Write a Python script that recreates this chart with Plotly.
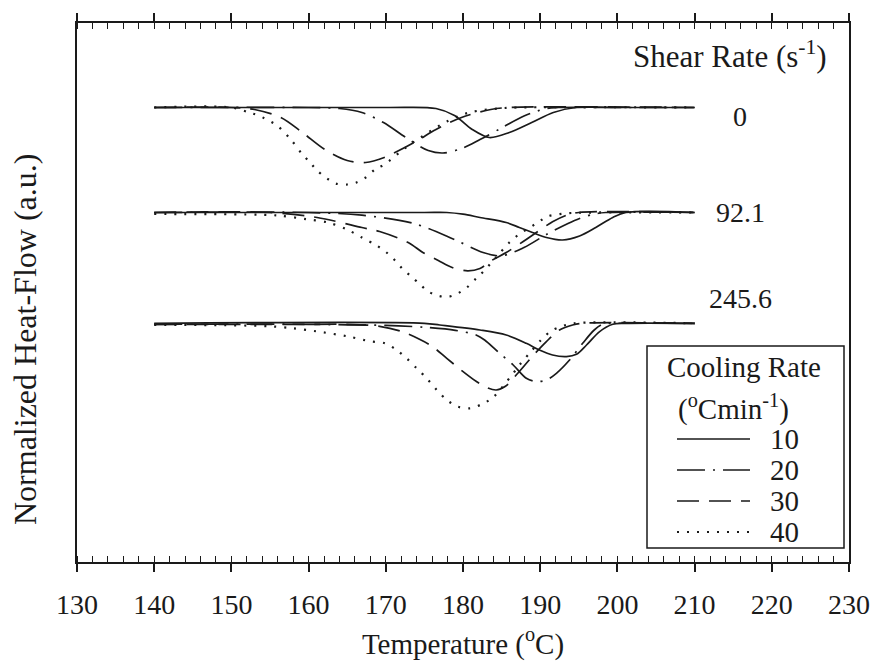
import plotly.graph_objects as go

# ---------------- data ----------------
shear_rates = ["0", "92.1", "245.6"]
baselines = [45.45, 34.95, 23.87]          # vertical offset of each shear-rate group (a.u.)
cooling_rates = ["10", "20", "30", "40"]

# group 1 : shear rate 0
g1_T10 = [140, 170, 176.5, 178.9, 181.2, 183.4, 186, 188.9, 191.7, 194.6, 200, 210]
g1_d10 = [0, 0, 0.1, 0.8, 2.2, 3.0, 2.5, 1.5, 0.5, 0, 0, 0]
g1_T20 = [140, 160, 164, 166.9, 169.7, 172.6, 175.5, 177.4, 179.8, 182.2, 185.1, 187.9, 190.8, 192.4, 200, 210]
g1_d20 = [0, 0, 0.1, 0.5, 1.5, 3.0, 4.3, 4.55, 4.1, 3.2, 2.0, 0.85, 0.1, 0, 0, 0]
g1_T30 = [140, 150, 153, 156.4, 159.2, 162.1, 165, 167.4, 169.8, 171.7, 174.1, 176.5, 179.8, 183.6, 186, 210]
g1_d30 = [0, 0, 0.2, 1.0, 2.5, 4.2, 5.3, 5.5, 5.0, 4.3, 3.3, 2.2, 1.0, 0.2, 0, 0]
g1_T40 = [140, 150, 152.3, 153.5, 155.9, 157.8, 159.2, 160.2, 161.1, 162.4, 163.5, 165, 166.2, 167.4,
          168.6, 169.8, 172.6, 174.5, 177.9, 180.8, 184.6, 187, 210]
g1_d40 = [0, 0, 0.5, 0.8, 1.8, 3.3, 4.7, 5.5, 6.3, 7.1, 7.6, 7.7, 7.5, 7.0,
          6.2, 5.7, 4.0, 3.0, 1.4, 0.5, 0.1, 0, 0]

# group 2 : shear rate 92.1
g2_T10 = [140, 175, 177.9, 180, 182.2, 185.6, 187.3, 189, 190.8, 192.9, 195.1, 197.2, 199.4, 201.1, 210]
g2_d10 = [0, 0, 0, 0.17, 0.5, 1.0, 1.5, 2.0, 2.5, 2.75, 2.35, 1.5, 0.5, 0, 0]
g2_T20 = [140, 160, 166.9, 173.5, 178.8, 182.6, 185, 187.9, 190.8, 193.6, 195.1, 197, 198.5, 210]
g2_d20 = [0, 0, 0.27, 1.07, 2.67, 4.0, 4.33, 3.5, 2.2, 1.1, 0.6, 0.15, 0, 0]
g2_T30 = [140, 155, 161.1, 166.9, 169.2, 172.9, 174.8, 176.8, 178.6, 180.6, 182.2, 183.7, 185.6, 187.8,
          189.5, 191.6, 193.4, 195, 210]
g2_d30 = [0, 0, 0.5, 1.5, 1.9, 3.0, 4.0, 4.8, 5.5, 5.83, 5.6, 4.8, 4.0, 2.9,
          2.0, 0.93, 0.27, 0, 0]
g2_T40 = [140, 152, 156, 159.7, 162.5, 164.9, 166.9, 168.8, 170.1, 171.2, 172.2, 173.3, 174.4, 175.5,
          176.8, 178.1, 179.3, 180.5, 181.7, 182.8, 184.5, 186, 187.3, 189.7, 190.9, 192.5, 194, 210]
g2_d40 = [0.15, 0.2, 0.3, 0.67, 1.0, 1.67, 2.5, 3.3, 4.0, 4.8, 5.67, 6.4, 7.17, 7.9,
          8.33, 8.43, 8.1, 7.5, 6.6, 5.77, 4.3, 3.0, 2.17, 1.0, 0.4, 0.17, 0.05, 0]

# group 3 : shear rate 245.6
g3_T10 = [140, 175, 177, 182.2, 185.6, 188.2, 189.9, 191.6, 193.4, 194.7, 196, 197.7, 199.4, 201, 210]
g3_d10 = [0, 0, 0.17, 0.67, 1.17, 2.0, 2.67, 3.17, 3.33, 3.1, 2.17, 0.83, 0.1, 0, 0]
g3_T20 = [140, 160, 165, 170, 175, 179, 181.7, 182.8, 184.6, 186.5, 188.2, 189.5, 190.8, 192.1, 193.8,
          195.5, 197, 198.1, 200, 210]
g3_d20 = [0.1, 0.1, 0.15, 0.2, 0.4, 0.7, 1.17, 1.67, 2.9, 4.17, 5.5, 5.83, 5.67, 5.0, 3.67,
          2.0, 0.67, 0.1, 0, 0]
g3_T30 = [140, 160, 165, 169.2, 172, 174.3, 176, 177.9, 179.8, 181.7, 183, 184.3, 185.5, 187.1, 189,
          190.8, 192.5, 194.2, 195.5, 210]
g3_d30 = [0.1, 0.1, 0.1, 0.3, 0.8, 1.57, 2.3, 3.5, 4.7, 5.8, 6.4, 6.67, 6.3, 5.0, 3.3,
          1.83, 0.67, 0.17, 0, 0]
g3_T40 = [140, 150, 155, 158, 161, 165, 168, 169.9, 171.4, 172.7, 174, 175.3, 176.6, 177.9, 179.3,
          180.9, 182.4, 183.9, 186.4, 187.5, 188.8, 190.1, 191.4, 192.9, 194.4, 210]
g3_d40 = [0.15, 0.2, 0.3, 0.5, 0.8, 1.3, 1.8, 2.0, 2.67, 3.5, 4.5, 5.5, 6.67, 7.67, 8.33,
          8.5, 8.1, 7.4, 5.1, 4.0, 2.83, 1.67, 0.77, 0.27, 0, 0]

groups = [
    [(g1_T10, g1_d10), (g1_T20, g1_d20), (g1_T30, g1_d30), (g1_T40, g1_d40)],
    [(g2_T10, g2_d10), (g2_T20, g2_d20), (g2_T30, g2_d30), (g2_T40, g2_d40)],
    [(g3_T10, g3_d10), (g3_T20, g3_d20), (g3_T30, g3_d30), (g3_T40, g3_d40)],
]

# ---------------- style ----------------
INK = "#1a1a1a"
FONT = "Liberation Serif"
dashes = ["solid", "28px,8px,2px,8px", "22px,10px", "2px,8px"]
widths = [1.7, 1.7, 1.7, 2.2]

W, H = 878, 671
ML, MR, MT, MB = 77, 29, 23, 109
PW, PH = W - ML - MR, H - MT - MB


def xp(px):
    return (px - ML) / PW


def yp(py):
    return (H - MB - py) / PH


fig = go.Figure()
for gi, grp in enumerate(groups):
    for ci, (T, d) in enumerate(grp):
        fig.add_trace(go.Scatter(
            x=T, y=[baselines[gi] - v for v in d],
            mode="lines",
            line=dict(color=INK, width=widths[ci], dash=dashes[ci], shape="spline", smoothing=0.9),
            name=cooling_rates[ci], legendgroup=cooling_rates[ci], showlegend=False,
            hoverinfo="skip",
        ))

axis_common = dict(range=[130, 230], showgrid=False, zeroline=False)
fig.update_layout(
    width=W, height=H,
    margin=dict(l=ML, r=MR, t=MT, b=MB, autoexpand=False),
    paper_bgcolor="white", plot_bgcolor="white",
    font=dict(family=FONT, color=INK, size=27),
    showlegend=False,
    xaxis=dict(**axis_common, showline=True, linecolor=INK, linewidth=1.5,
               ticks="outside", ticklen=8, tickwidth=1.5, tickcolor=INK,
               tick0=130, dtick=10, mirror="allticks",
               minor=dict(ticks="inside", ticklen=6, tickwidth=1.2, tickcolor=INK, dtick=2),
               tickfont=dict(family=FONT, size=28), ticklabelstandoff=9,
               title=dict(text="Temperature (<sup>o</sup>C)", font=dict(family=FONT, size=29), standoff=14)),
    xaxis2=dict(**axis_common, overlaying="x", matches="x", anchor="y", showline=False,
                ticks="inside", ticklen=8, tickwidth=1.5, tickcolor=INK,
                tick0=130, dtick=10, mirror="allticks", showticklabels=False),
    yaxis=dict(range=[0, PH / 10], showline=True, linecolor=INK, linewidth=1.5, mirror=True,
               ticks="", showticklabels=False, showgrid=False, zeroline=False),
)

ann = []
ann.append(dict(xref="paper", yref="paper", x=xp(25), y=yp(340), text="Normalized Heat-Flow (a.u.)",
                textangle=-90, showarrow=False, font=dict(family=FONT, size=32),
                xanchor="center", yanchor="middle"))
ann.append(dict(xref="paper", yref="paper", x=xp(730), y=yp(54), text="Shear Rate (s<sup>-1</sup>)",
                showarrow=False, font=dict(family=FONT, size=31), xanchor="center", yanchor="middle"))
label_py = [116, 212, 298]
for lab, py in zip(shear_rates, label_py):
    ann.append(dict(xref="paper", yref="paper", x=xp(740), y=yp(py), text=lab, showarrow=False,
                    font=dict(family=FONT, size=28), xanchor="center", yanchor="middle"))

# legend box
box_l, box_r, box_t, box_b = 647, 844, 346, 548
shapes = [dict(type="rect", xref="paper", yref="paper", x0=xp(box_l), x1=xp(box_r), y0=yp(box_b), y1=yp(box_t),
               line=dict(color=INK, width=1.5), fillcolor="white", layer="above")]
ann.append(dict(xref="paper", yref="paper", x=xp(744), y=yp(367), text="Cooling Rate", showarrow=False,
                font=dict(family=FONT, size=29), xanchor="center", yanchor="middle"))
ann.append(dict(xref="paper", yref="paper", x=xp(733), y=yp(407), text="(<sup>o</sup>Cmin<sup>-1</sup>)",
                showarrow=False, font=dict(family=FONT, size=29), xanchor="center", yanchor="middle"))
row_py = [439, 470, 501, 532]
for ci, py in enumerate(row_py):
    shapes.append(dict(type="line", xref="paper", yref="paper", x0=xp(677), x1=xp(750), y0=yp(py), y1=yp(py),
                       line=dict(color=INK, width=widths[ci], dash=dashes[ci]), layer="above"))
    ann.append(dict(xref="paper", yref="paper", x=xp(768), y=yp(py), text=cooling_rates[ci], showarrow=False,
                    font=dict(family=FONT, size=29), xanchor="left", yanchor="middle"))

fig.update_layout(annotations=ann, shapes=shapes)
fig.write_html("out.html")
